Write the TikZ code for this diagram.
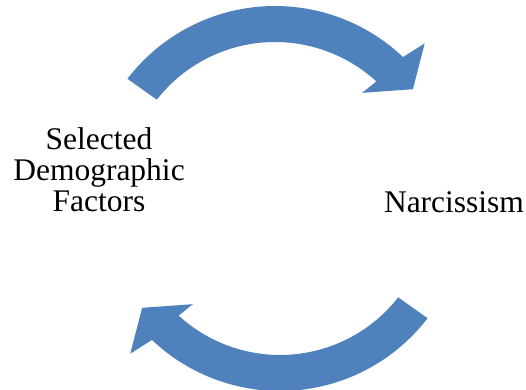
\documentclass[tikz,border=0pt]{standalone}
\usepackage{fontspec}
\setmainfont{Liberation Serif}
\usetikzlibrary{positioning}
\definecolor{cycleblue}{RGB}{79,129,189}
\tikzset{
    label/.style = {align=center, inner sep=0pt, font=\fontsize{31.5}{31}\selectfont},
    bandarrow/.style = {fill=cycleblue, draw=none},
    pics/cyclearrow/.style = {code={
        \fill[bandarrow] (142.5:186) arc[start angle=142.5, end angle=46.5, radius=186]
            -- (44.8:211) -- (36.7:172) -- (48.7:132) -- (47.5:150)
            arc[start angle=47.5, end angle=142, radius=150] -- cycle;
    }}
}

\begin{document}
\begin{tikzpicture}[x=1pt, y=1pt]
\useasboundingbox (0,0) rectangle (526,389);

% Centres of the two bands
\coordinate (top) at (275,197);
\coordinate (bot) at (280,184);

% Labels
\node[label] (SDF) at (99,219) {Selected\\Demographic\\Factors};
\node[label, anchor=base] (NARC) at (454,177) {Narcissism};

% Upper band, SDF -> NARC
\pic at (top) {cyclearrow};
% Lower band, NARC -> SDF
\pic[rotate=180] at (bot) {cyclearrow};
\end{tikzpicture}
\end{document}
